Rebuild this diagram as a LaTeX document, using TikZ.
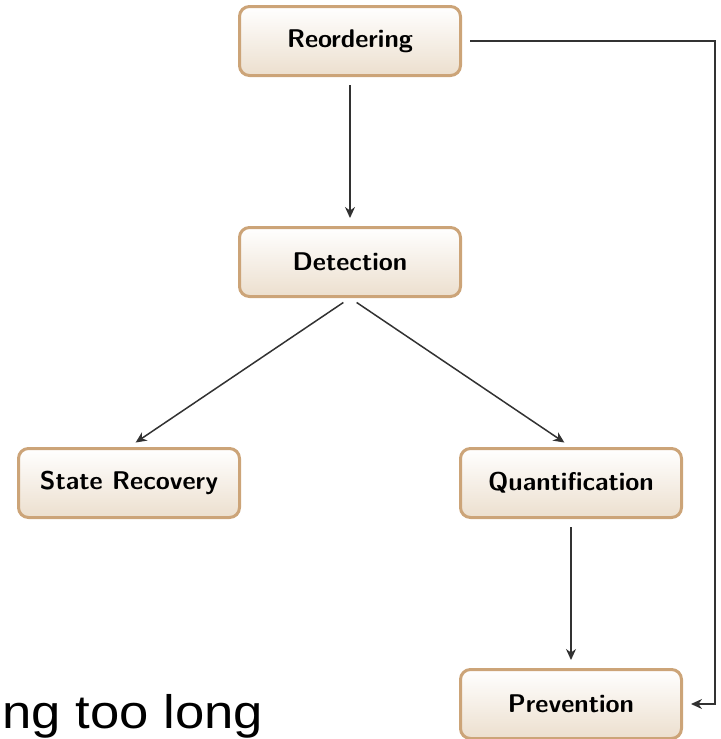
\documentclass[tikz,border=0pt]{standalone}
\usepackage{fontspec}
\newfontfamily\liberation{Liberation Sans}
\usetikzlibrary{arrows.meta,positioning}
\definecolor{tan}{RGB}{204,164,120}
\definecolor{sand}{RGB}{236,223,206}
\definecolor{ink}{RGB}{50,50,50}
\tikzset{
  blk/.style={rectangle, rounded corners=5pt, draw=tan, line width=1.5pt,
              top color=white, bottom color=sand,
              minimum height=34.5pt, minimum width=110.5pt, align=center,
              font=\sffamily\bfseries\fontsize{12.8}{15}\selectfont},
  ar/.style={-{Stealth[length=5.5pt,width=5pt]}, draw=ink, line width=0.75pt,
             shorten <=4pt, shorten >=4pt},
}
\begin{document}
\begin{tikzpicture}[x=0.5pt,y=-0.5pt,node distance=74.5pt]
\useasboundingbox (0,0) rectangle (721,739);
\clip (0,0) rectangle (721,739);
\node[blk] (detect) at (350,262) {Detection};
\node[blk, above=of detect] (reorder) {Reordering};
\node[blk, below left=74.5pt and -1.5pt of detect] (recover) {State Recovery};
\node[blk, below right=74.5pt and -1.5pt of detect] (quant) {Quantification};
\node[blk, below=of quant] (prevent) {Prevention};
\draw[ar] (reorder.south) -- (detect.north);
\draw[ar] (detect.south) -- (recover.north);
\draw[ar] (detect.south) -- (quant.north);
\draw[ar] (quant.south) -- (prevent.north);
\draw[ar] (reorder.east) -- ++(253,0) |- (prevent.east);
% cut-off caption text
\node[anchor=base west, inner sep=0pt, xscale=1.12, font=\liberation\fontsize{23.5}{28}\selectfont] (stray) at (2,728) {ng too long};
\end{tikzpicture}
\end{document}
